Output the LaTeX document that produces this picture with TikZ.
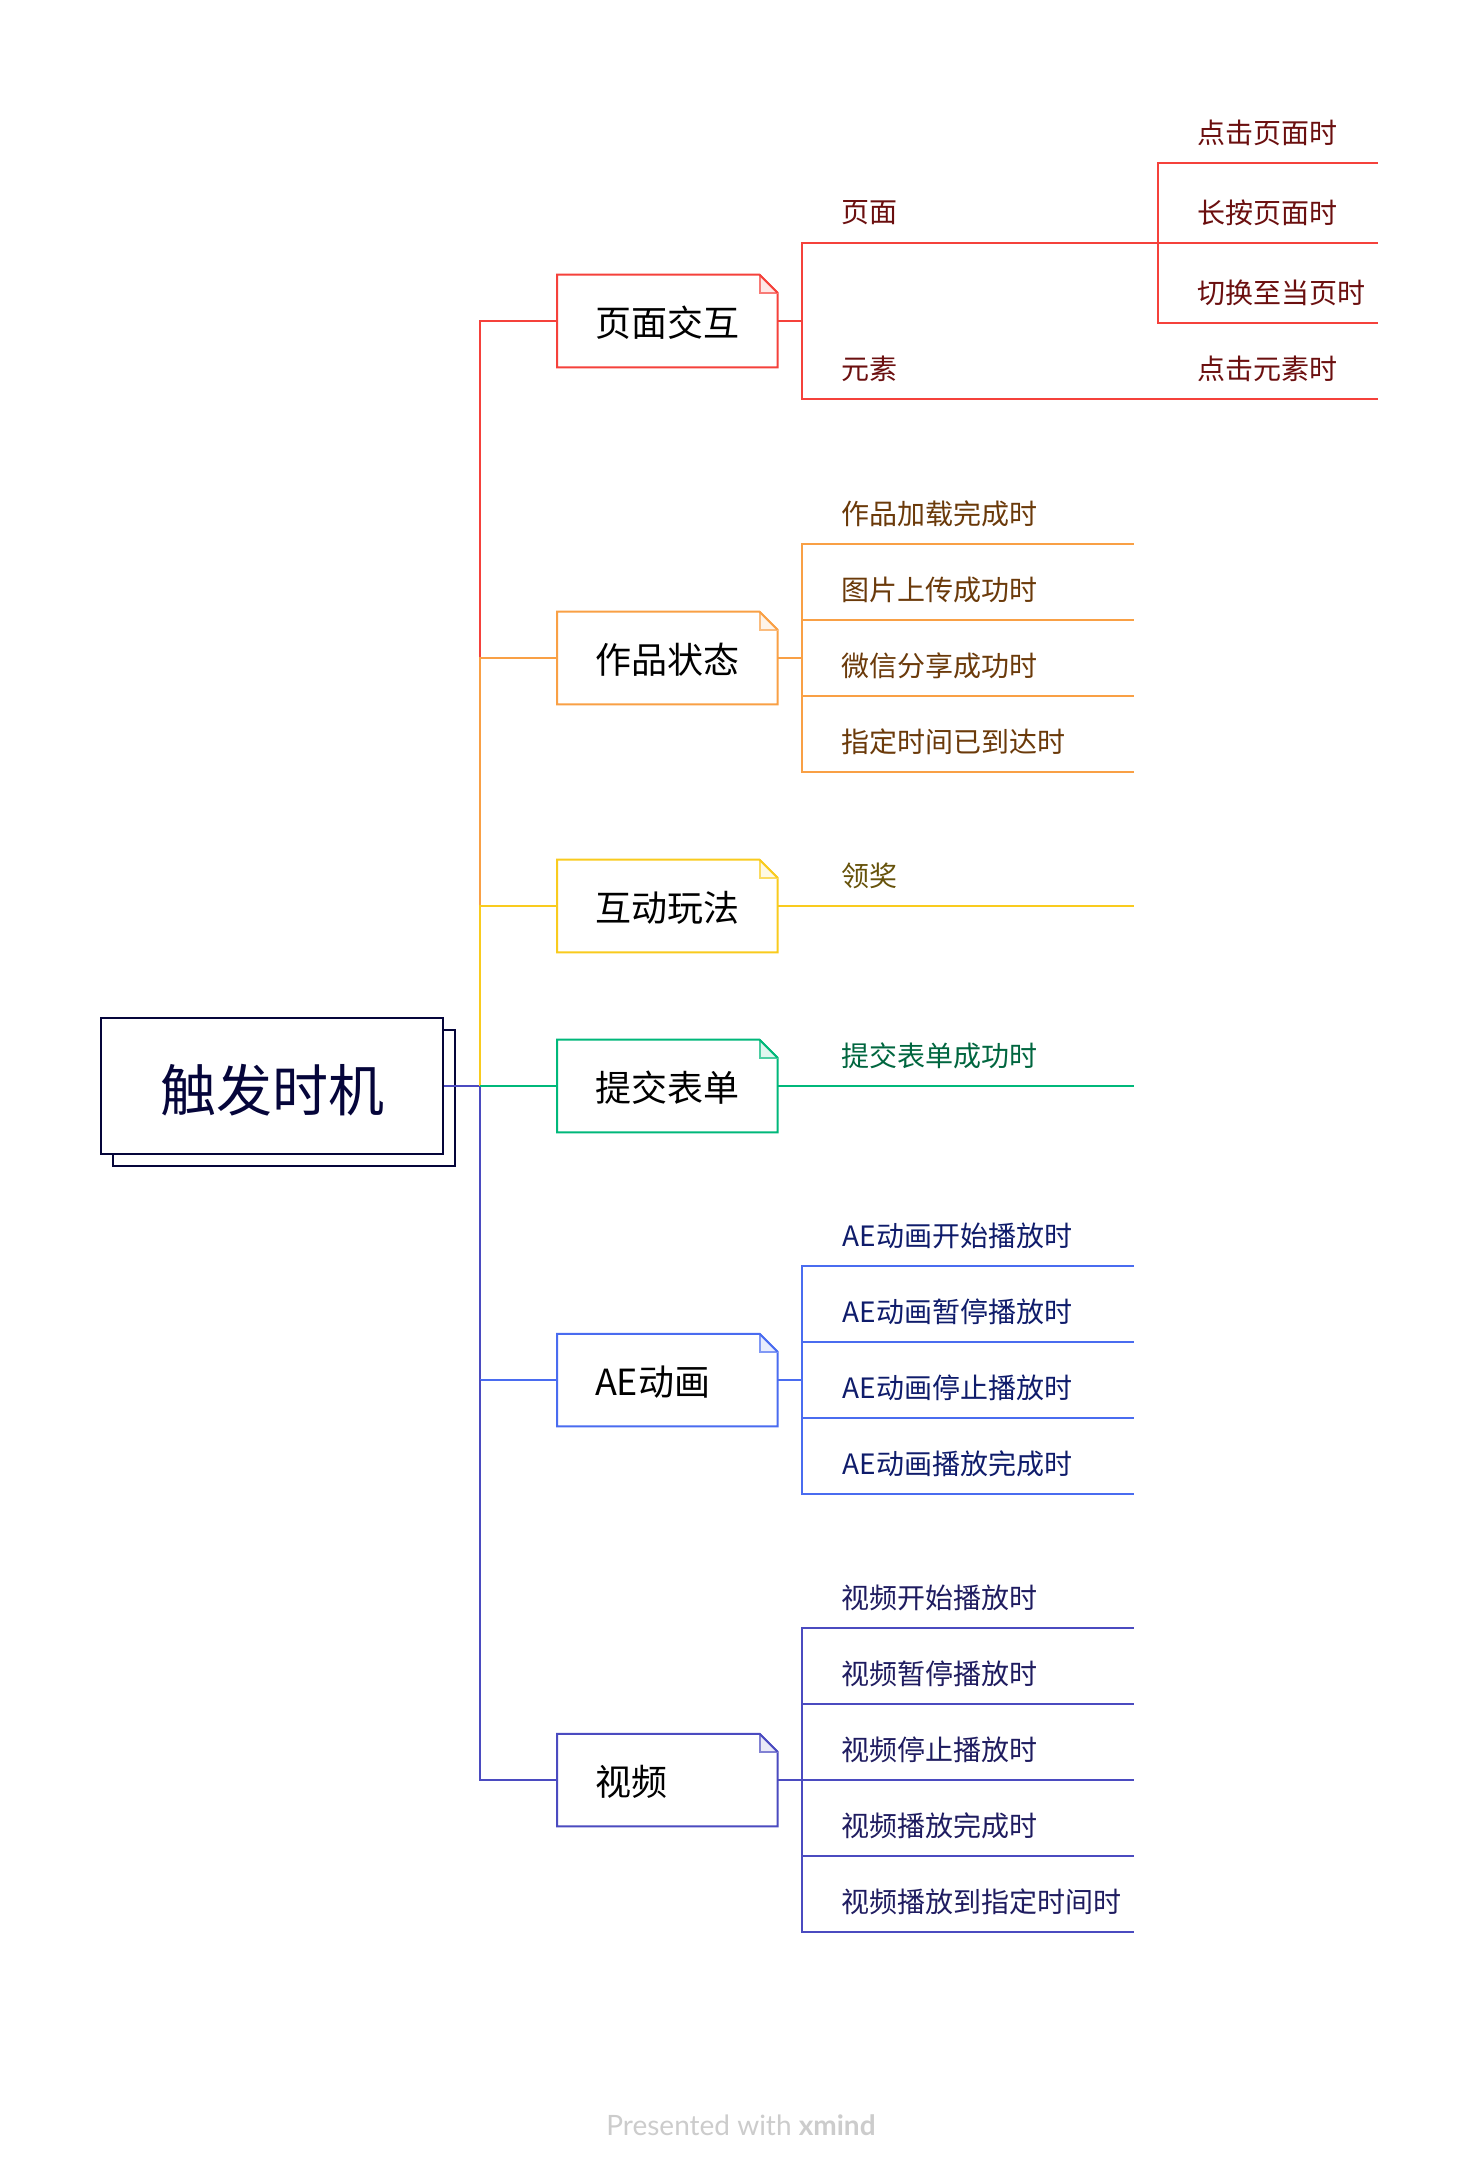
\documentclass[tikz,border=0pt]{standalone}
\usepackage{fontspec}
\setmainfont{Noto Sans CJK SC}
\newfontfamily\footfont{Lato}
\definecolor{cred}{HTML}{F5413B}\definecolor{tred}{HTML}{6B0F0F}
\definecolor{corange}{HTML}{F9A045}\definecolor{torange}{HTML}{6B3A0A}
\definecolor{cyellow}{HTML}{F9CB1E}\definecolor{tyellow}{HTML}{66520A}
\definecolor{cgreen}{HTML}{00B87A}\definecolor{tgreen}{HTML}{00663F}
\definecolor{cblue}{HTML}{4A6CF0}\definecolor{tblue}{HTML}{0F1C6B}
\definecolor{cpurple}{HTML}{4B4BC0}\definecolor{tpurple}{HTML}{1F1C60}
\definecolor{croot}{HTML}{05053A}
\tikzset{
  wire/.style={line width=1.5pt},
  leaf/.style={anchor=west,font=\fontsize{21}{21}\selectfont,inner sep=0pt},
  topic/.style={anchor=west,minimum width=220*0.75pt,minimum height=92*0.75pt,inner sep=0pt,font=\fontsize{27}{27}\selectfont,align=left,text width=220*0.75pt,text depth=0pt}
}
% name, y of the connector line, label, line colour
\newcommand{\topicbox}[4]{%
  \node[topic] (#1) at (557,#2) {\hspace*{28.3pt}\raisebox{-0.8pt}{#3}};
  \draw[#4,wire] (#1.north west) -- ([xshift=-18*0.75pt]#1.north east) -- ([yshift=-18*0.75pt]#1.north east) -- (#1.south east) -- (#1.south west) -- cycle;
  \draw[#4!70,wire,fill=#4!12] ([xshift=-18*0.75pt]#1.north east) -- ([xshift=-18*0.75pt,yshift=-18*0.75pt]#1.north east) -- ([yshift=-18*0.75pt]#1.north east);
  \draw[#4,wire] ([xshift=-18*0.75pt]#1.north east) -- ([yshift=-18*0.75pt]#1.north east);
}
% name, x start of line, x end, y of line, text x, colour, text colour, text
\newcommand{\leafline}[8]{%
  \coordinate (#1a) at (#2,#4);
  \coordinate (#1b) at (#3,#4);
  \draw[#6,wire] (#1a) -- (#1b);
  \node[leaf,text=#7] (#1) at (#5,#4-30) {#8};
}
\begin{document}
\begin{tikzpicture}[x=0.75pt,y=-0.75pt]
\useasboundingbox (0,0) rectangle (1478,2174);
\fill[white] (0,0) rectangle (1478,2174);

% root
\draw[croot,wire,fill=white] (113,1030) rectangle (455,1166);
\node[draw=croot,wire,fill=white,minimum width=342*0.75pt,minimum height=136*0.75pt,inner sep=0pt,text=croot,font=\fontsize{42}{42}\selectfont,anchor=center] (root) at (272,1086) {\raisebox{-3pt}[\height][\depth]{触发时机}};

% trunk
\coordinate (jr) at (480,1086);
\coordinate (j1) at (480,321);
\coordinate (j2) at (480,658);
\coordinate (j3) at (480,906);
\coordinate (j5) at (480,1380);
\coordinate (j6) at (480,1780);

\topicbox{t1}{321}{页面交互}{cred}
\topicbox{t2}{658}{作品状态}{corange}
\topicbox{t3}{906}{互动玩法}{cyellow}
\topicbox{t4}{1086}{提交表单}{cgreen}
\topicbox{t5}{1380}{AE动画}{cblue}
\topicbox{t6}{1780}{视频}{cpurple}

\draw[cpurple,wire] (root.east |- jr) -- (jr);
\draw[cred,wire] (t1.west) -- (j1) -- (j2);
\draw[corange,wire] (t2.west) -- (j2) -- (j3);
\draw[cyellow,wire] (t3.west) -- (j3) -- (jr);
\draw[cpurple,wire] (jr) -- (j5);
\draw[cblue,wire] (t5.west) -- (j5);
\draw[cpurple,wire] (j5) -- (j6) -- (t6.west);
\draw[cgreen,wire] (jr) -- (t4.west);

% page interaction
\leafline{r1}{802}{1378}{243}{841.5}{cred}{tred}{页面}
\leafline{r2}{802}{1378}{399}{841.5}{cred}{tred}{元素}
\node[leaf,text=tred] (r24) at (1197,369) {点击元素时};
\draw[cred,wire] (t1.east) -- (t1.east -| r1a);
\draw[cred,wire,line cap=rect] (r1a) -- (r2a);
\leafline{s1}{1158}{1378}{163}{1197}{cred}{tred}{点击页面时}
\leafline{s2}{1158}{1378}{243}{1197}{cred}{tred}{长按页面时}
\leafline{s3}{1158}{1378}{323}{1197}{cred}{tred}{切换至当页时}
\draw[cred,wire,line cap=rect] (s1a) -- (s3a);

% work state
\leafline{o1}{802}{1134}{544}{841.5}{corange}{torange}{作品加载完成时}
\leafline{o2}{802}{1134}{620}{841.5}{corange}{torange}{图片上传成功时}
\leafline{o3}{802}{1134}{696}{841.5}{corange}{torange}{微信分享成功时}
\leafline{o4}{802}{1134}{772}{841.5}{corange}{torange}{指定时间已到达时}
\draw[corange,wire] (t2.east) -- (t2.east -| o1a);
\draw[corange,wire,line cap=rect] (o1a) -- (o4a);

% game
\leafline{y1}{777}{1134}{906}{841.5}{cyellow}{tyellow}{领奖}

% form
\leafline{g1}{777}{1134}{1086}{841.5}{cgreen}{tgreen}{提交表单成功时}

% AE
\leafline{b1}{802}{1134}{1266}{842.5}{cblue}{tblue}{AE动画开始播放时}
\leafline{b2}{802}{1134}{1342}{842.5}{cblue}{tblue}{AE动画暂停播放时}
\leafline{b3}{802}{1134}{1418}{842.5}{cblue}{tblue}{AE动画停止播放时}
\leafline{b4}{802}{1134}{1494}{842.5}{cblue}{tblue}{AE动画播放完成时}
\draw[cblue,wire] (t5.east) -- (t5.east -| b1a);
\draw[cblue,wire,line cap=rect] (b1a) -- (b4a);

% video
\leafline{p1}{802}{1134}{1628}{841.5}{cpurple}{tpurple}{视频开始播放时}
\leafline{p2}{802}{1134}{1704}{841.5}{cpurple}{tpurple}{视频暂停播放时}
\leafline{p3}{802}{1134}{1780}{841.5}{cpurple}{tpurple}{视频停止播放时}
\leafline{p4}{802}{1134}{1856}{841.5}{cpurple}{tpurple}{视频播放完成时}
\leafline{p5}{802}{1134}{1932}{841.5}{cpurple}{tpurple}{视频播放到指定时间时}
\draw[cpurple,wire] (t6.east) -- (p3a);
\draw[cpurple,wire,line cap=rect] (p1a) -- (p5a);

% footer
\node[text=black!20,font=\footfont\fontsize{21}{21}\selectfont,inner sep=0pt] (foot) at (741,2125) {Presented with \textbf{xmind}};
\end{tikzpicture}
\end{document}
